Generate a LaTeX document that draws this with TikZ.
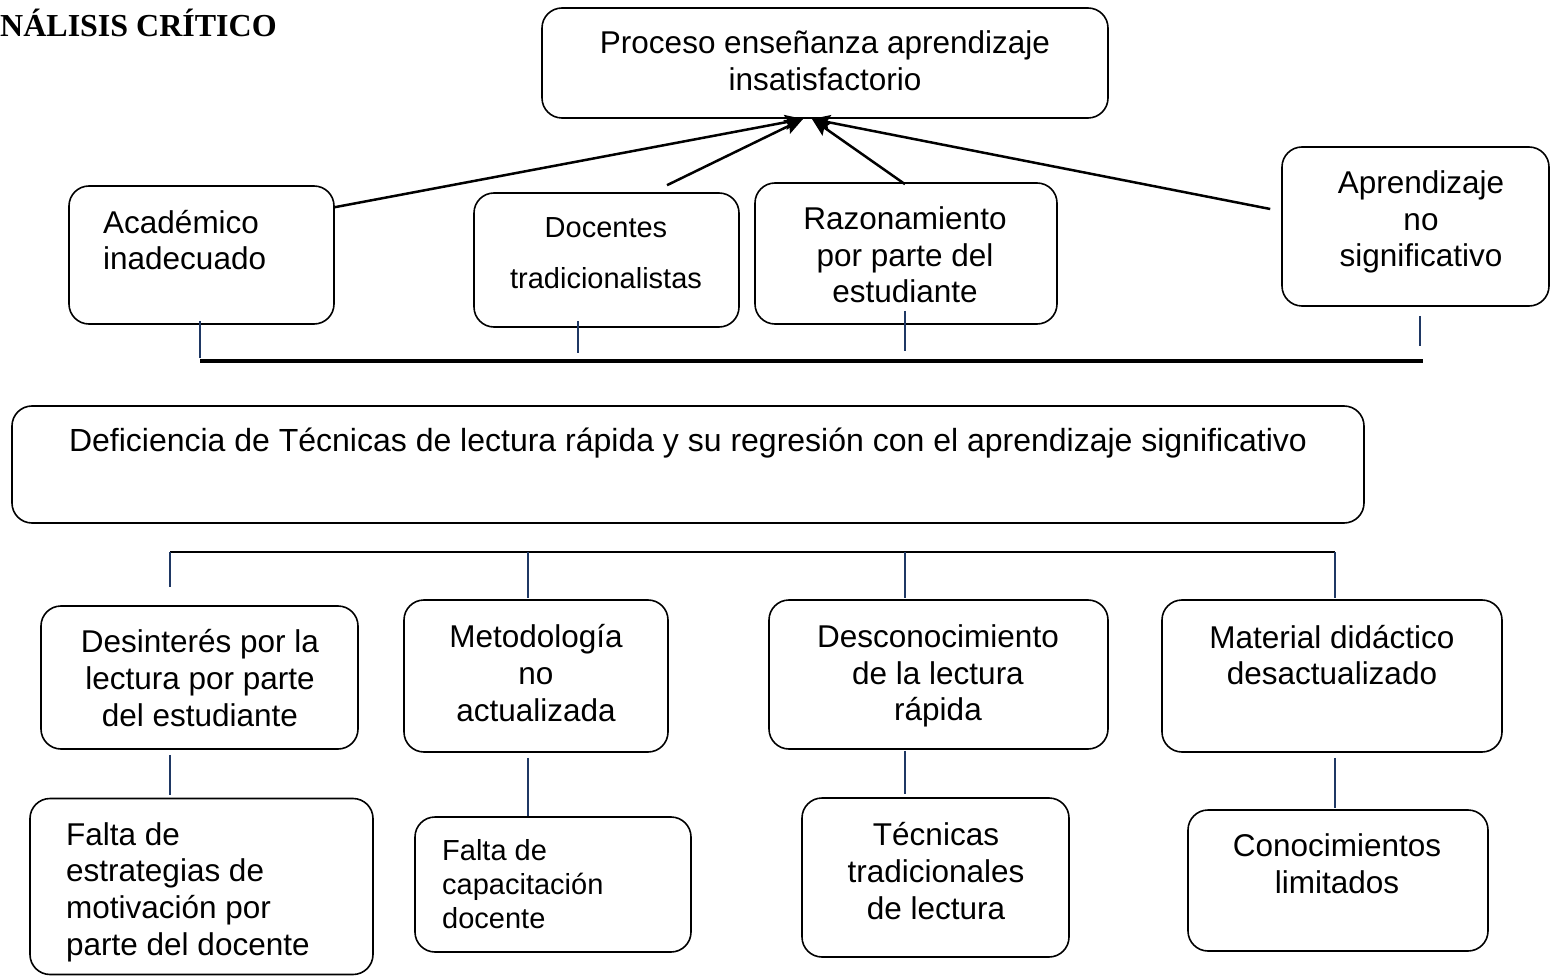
\documentclass[tikz,border=0pt]{standalone}
\usepackage{fontspec}
\setmainfont{Liberation Sans}
\newfontfamily\titlefont{Liberation Serif}
\usetikzlibrary{arrows.meta,calc}
\definecolor{navy}{HTML}{1F3864}
\begin{document}
\begin{tikzpicture}[x=1pt,y=-1pt,
  box/.style={draw=black,line width=1.6pt,rounded corners=20pt,inner sep=0pt,anchor=center},
  txt/.style={inner sep=0pt,align=center,font=\fontsize{31.5}{36.7}\selectfont},
  txtl/.style={inner sep=0pt,align=left,anchor=west,font=\fontsize{31.5}{36.7}\selectfont},
  smalltxt/.style={inner sep=0pt,font=\fontsize{29}{34}\selectfont},
  arr/.style={line width=2.5pt,-{Stealth[length=18pt,width=15pt,inset=3pt]}},
  navyline/.style={draw=navy,line width=1.6pt},
]
\useasboundingbox (0,0) rectangle (1551,976);

% title
\node[inner sep=0pt,anchor=base west,font=\titlefont\bfseries\fontsize{32}{38}\selectfont] (title) at (0,37) {NÁLISIS CRÍTICO};

% top box
\node[box,minimum width=566pt,minimum height=110pt] (top) at (825,63) {};
\node[txt] (topt) at (825,61) {Proceso enseñanza aprendizaje\\insatisfactorio};

% second row
\node[box,minimum width=265pt,minimum height=138pt] (aca) at (201.5,255) {};
\node[txtl] (acat) at (103,240) {Académico\\inadecuado};

\node[box,minimum width=265pt,minimum height=134pt] (doc) at (606.5,260) {};
\node[smalltxt,align=center,font=\fontsize{29}{51}\selectfont] (doct) at (606,253) {Docentes\\tradicionalistas};

\node[box,minimum width=302pt,minimum height=141pt] (raz) at (906,253.5) {};
\node[txt] (razt) at (905,255) {Razonamiento\\por parte del\\estudiante};

\node[box,minimum width=267pt,minimum height=159pt] (apr) at (1415.5,226.5) {};
\node[txt] (aprt) at (1421,222) {Aprendizaje\\no\\significativo};

% arrows
\coordinate (tipL) at (803,119);
\coordinate (tipR) at (812,119);
\draw[arr] ([yshift=-22pt]aca.north east) -- (tipL);
\draw[arr] ([xshift=60.5pt,yshift=7pt]doc.north) -- (tipL);
\draw[arr] ([xshift=-1pt,yshift=-2pt]raz.north) -- (tipR);
\draw[arr] ([xshift=-11pt,yshift=17.5pt]apr.west) -- (tipR);

% bar under second row
\coordinate (barL) at (200,361);
\coordinate (barR) at (1423,361);
\draw[line width=4pt] (barL) -- (barR);
\draw[navyline] ([xshift=-1.5pt,yshift=4pt]aca.south) -- ++(0,37);
\draw[navyline] ([xshift=-28.5pt,yshift=7pt]doc.south) -- ++(0,32);
\draw[navyline] ([xshift=-1pt,yshift=14pt]raz.south) -- ++(0,40);
\draw[navyline] ([xshift=4.5pt,yshift=-9pt]apr.south) -- ++(0,30);

% central box
\node[box,minimum width=1352pt,minimum height=117pt] (def) at (688,464.5) {};
\node[txt,font=\fontsize{32}{37}\selectfont] (deft) at (688,443) {Deficiencia de Técnicas de lectura rápida y su regresión con el aprendizaje significativo};

% bracket
\coordinate (br1) at (170,552);
\coordinate (br2) at (528,552);
\coordinate (br3) at (905,552);
\coordinate (br4) at (1335,552);
\draw[line width=2pt] (br1) -- (br4);
\draw[navyline] (br1) -- ++(0,35);
\draw[navyline] (br2) -- ++(0,46);
\draw[navyline] (br3) -- ++(0,46);
\draw[navyline] (br4) -- ++(0,46);

% third row
\node[box,minimum width=317pt,minimum height=143pt] (des) at (199.5,677.5) {};
\node[txt] (dest) at (200,678) {Desinterés por la\\lectura por parte\\del estudiante};

\node[box,minimum width=264pt,minimum height=152pt] (met) at (536,676) {};
\node[txt] (mett) at (536,673) {Metodología\\no\\actualizada};

\node[box,minimum width=339pt,minimum height=149pt] (dco) at (938.5,674.5) {};
\node[txt] (dcot) at (938,676) {Desconocimiento\\de la lectura\\rápida};

\node[box,minimum width=340pt,minimum height=152pt] (mat) at (1332,676) {};
\node[txt] (matt) at (1332,655) {Material didáctico\\desactualizado};

% connectors to fourth row
\draw[navyline] ([xshift=-29.5pt,yshift=-5pt]des.south) -- ++(0,40);
\draw[navyline] ([xshift=-8pt,yshift=-5pt]met.south) -- ++(0,58);
\draw[navyline] ([xshift=-33.5pt,yshift=-1pt]dco.south) -- ++(0,43);
\draw[navyline] ([xshift=3pt,yshift=-5pt]mat.south) -- ++(0,50);

% fourth row
\node[box,minimum width=343pt,minimum height=176pt] (fes) at (201.5,886.5) {};
\node[txtl] (fest) at (66,892) {Falta de\\estrategias de\\motivación por\\parte del docente};

\node[box,minimum width=276pt,minimum height=135pt] (fca) at (553,884.5) {};
\node[smalltxt,align=left,anchor=west] (fcat) at (442,884) {Falta de\\capacitación\\docente};

\node[box,minimum width=267pt,minimum height=159pt] (tec) at (935.5,877.5) {};
\node[txt] (tect) at (936,871) {Técnicas\\tradicionales\\de lectura};

\node[box,minimum width=300pt,minimum height=141pt] (con) at (1338,880.5) {};
\node[txt] (cont) at (1337,864) {Conocimientos\\limitados};
\end{tikzpicture}
\end{document}
